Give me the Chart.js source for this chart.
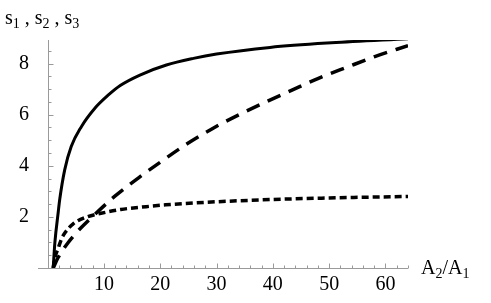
<!DOCTYPE html>
<html>
<head>
<meta charset="utf-8">
<script src="https://cdn.jsdelivr.net/npm/chart.js@4.4.0/dist/chart.umd.min.js"></script>
<style>
  html, body { margin: 0; padding: 0; background: #fff; }
</style>
</head>
<body>
<canvas id="chart" width="491" height="303"></canvas>
<script>
// ---- data ----
const s1X = [1, 1.3, 1.9, 2.15, 3.04, 4.2, 6, 8.4, 10.7, 12.9, 16.4, 21.1, 25.9, 30, 39.5, 50.4, 64];
const s1Y = [0, 1.0, 2.2, 2.67, 3.84, 4.75, 5.53, 6.25, 6.75, 7.14, 7.55, 7.94, 8.2, 8.37, 8.63, 8.81, 8.97];

const s2X = [1, 1.85, 3.6, 5.4, 8.4, 11.9, 16.1, 20.2, 24.7, 29.4, 34.2, 39, 43.3, 48.1, 53.1, 58.1, 64];
const s2Y = [0, 0.4, 0.98, 1.45, 2.1, 2.8, 3.52, 4.17, 4.85, 5.47, 6.02, 6.52, 6.95, 7.42, 7.85, 8.27, 8.7];

const s3X = [1, 1.3, 1.85, 2.5, 3, 4.5, 7, 9.5, 13, 17.5, 21, 28, 40, 50, 64];
const s3Y = [0, 0.4, 0.75, 1.15, 1.35, 1.72, 2.0, 2.14, 2.29, 2.4, 2.47, 2.57, 2.68, 2.74, 2.8];

const xTicks = [10, 20, 30, 40, 50, 60];
const yTicks = [2, 4, 6, 8];
const xMinor = [2, 4, 6, 8, 12, 14, 16, 18, 22, 24, 26, 28, 32, 34, 36, 38, 42, 44, 46, 48, 52, 54, 56, 58, 62, 64];
const yMinor = [0.5, 1, 1.5, 2.5, 3, 3.5, 4.5, 5, 5.5, 6.5, 7, 7.5, 8.5];

const FONT = "'Liberation Serif', 'DejaVu Serif', serif";
Chart.defaults.font.family = FONT;

function pts(xs, ys) {
  return xs.map((x, i) => ({ x, y: ys[i] }));
}

// axes with inward ticks, drawn under the curves
const axesPlugin = {
  id: "axes",
  beforeDatasetsDraw(chart) {
    const { ctx, scales: { x, y } } = chart;
    const x0 = Math.round(x.getPixelForValue(0)) + 0.5;
    const y0 = Math.round(y.getPixelForValue(0)) + 0.5;
    ctx.save();
    ctx.strokeStyle = "#9a9a9a";
    ctx.lineWidth = 1;
    ctx.beginPath();
    ctx.moveTo(x.left, y0); ctx.lineTo(x.right, y0);
    ctx.moveTo(x0, y.top); ctx.lineTo(x0, y0);
    xTicks.forEach(v => {
      const p = Math.round(x.getPixelForValue(v)) + 0.5;
      ctx.moveTo(p, y0); ctx.lineTo(p, y0 - 5);
    });
    xMinor.forEach(v => {
      const p = Math.round(x.getPixelForValue(v)) + 0.5;
      ctx.moveTo(p, y0); ctx.lineTo(p, y0 - 3);
    });
    yTicks.forEach(v => {
      const p = Math.round(y.getPixelForValue(v)) + 0.5;
      ctx.moveTo(x0, p); ctx.lineTo(x0 + 5, p);
    });
    yMinor.forEach(v => {
      const p = Math.round(y.getPixelForValue(v)) + 0.5;
      ctx.moveTo(x0, p); ctx.lineTo(x0 + 3, p);
    });
    ctx.stroke();
    ctx.restore();
  },
  afterDraw(chart) {
    const { ctx } = chart;
    ctx.save();
    ctx.fillStyle = "#000";
    ctx.textBaseline = "alphabetic";
    // runs of [text, isSubscript]
    const drawRuns = (runs, x, y) => {
      runs.forEach(([t, sub]) => {
        ctx.font = (sub ? "14px " : "20px ") + FONT;
        ctx.fillText(t, x, sub ? y + 4 : y);
        x += ctx.measureText(t).width;
      });
    };
    drawRuns([["s", 0], ["1", 1], [" , s", 0], ["2", 1], [" , s", 0], ["3", 1]], 5, 24);
    drawRuns([["A", 0], ["2", 1], ["/A", 0], ["1", 1]], 421, 274);
    ctx.restore();
  }
};

const ctx = document.getElementById("chart");
const chart = new Chart(ctx, {
  type: "line",
  data: {
    datasets: [
      { label: "s1", data: pts(s1X, s1Y), borderColor: "#000", borderWidth: 3, borderDash: [] },
      { label: "s2", data: pts(s2X, s2Y), borderColor: "#000", borderWidth: 3.5, borderDash: [14, 9] },
      { label: "s3", data: pts(s3X, s3Y), borderColor: "#000", borderWidth: 3.5, borderDash: [7, 4] },
    ],
  },
  options: {
    responsive: false,
    animation: false,
    devicePixelRatio: 1,
    layout: { padding: { left: 0, right: 83, top: 40, bottom: 0 } },
    elements: {
      point: { radius: 0 },
      line: { cubicInterpolationMode: "monotone", fill: false }
    },
    plugins: { legend: { display: false }, tooltip: { enabled: false } },
    scales: {
      x: {
        type: "linear",
        min: -1.7, max: 64,
        grid: { display: false },
        border: { display: false },
        afterFit: (s) => { s.height = 35; },
        afterBuildTicks: (s) => { s.ticks = xTicks.map(v => ({ value: v })); },
        ticks: { color: "#000", font: { family: FONT, size: 20 }, padding: -3, maxRotation: 0 }
      },
      y: {
        type: "linear",
        min: 0, max: 8.92,
        grid: { display: false },
        border: { display: false },
        afterFit: (s) => { s.width = 38; },
        afterBuildTicks: (s) => { s.ticks = yTicks.map(v => ({ value: v })); },
        ticks: { color: "#000", font: { family: FONT, size: 20 }, padding: 1 }
      }
    }
  },
  plugins: [axesPlugin]
});
</script>
</body>
</html>
